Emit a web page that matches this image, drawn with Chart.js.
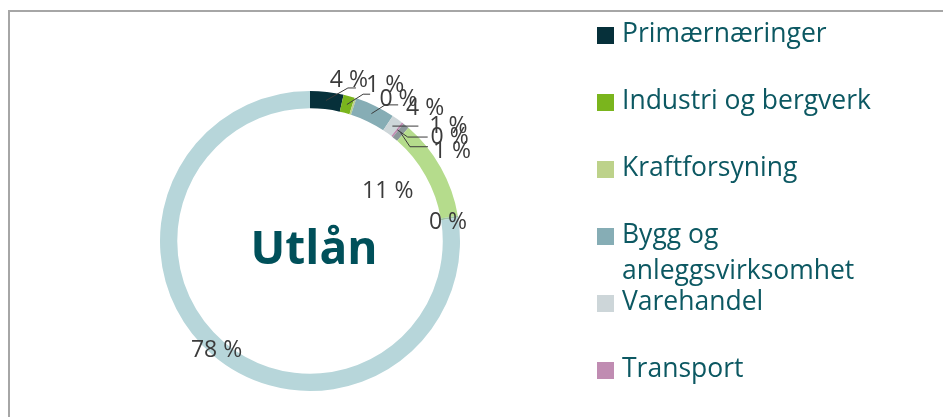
<!DOCTYPE html>
<html>
<head>
<meta charset="utf-8">
<script src="https://cdn.jsdelivr.net/npm/chart.js@4"></script>
<style>
  html, body { margin: 0; padding: 0; background: #fff; }
  body { width: 943px; height: 417px; position: relative; overflow: hidden; font-family: "Open Sans", sans-serif; }
  #frame { position: absolute; left: 8px; top: 10px; width: 1000px; height: 500px; border-top: 2px solid #a6a6a6; border-left: 2px solid #a6a6a6; }
  #chart { position: absolute; left: 0; top: 0; }
  #legend { position: absolute; left: 597px; top: 0; width: 346px; height: 417px; }
  .item { position: absolute; left: 0; display: flex; }
  .box { width: 17px; height: 17px; margin-top: 13px; margin-right: 8px; flex: none; }
  .txt { width: 300px; font-size: 26.5px; line-height: 36px; color: #0c5862; }
</style>
</head>
<body>
<div id="frame"></div>
<canvas id="chart" width="943" height="417"></canvas>
<div id="legend"></div>
<script>
const categories = ["Primærnæringer", "Industri og bergverk", "Kraftforsyning", "Bygg og anleggsvirksomhet",
  "Varehandel", "Transport", "Tjenesteyting", "Eiendomsdrift", "Offentlig forvaltning", "Personmarked"];
const values = [3.6, 1.2, 0.2, 4.3, 1.2, 0.2, 0.7, 10.9, 0.2, 77.5];
const colors = ["#06303a", "#7ab51d", "#bdd28a", "#86adb5", "#cdd6d9", "#c08cb2", "#8c989b", "#b5dc8c", "#9bc4a3", "#b7d6da"];

// label placement relative to the slice's outer midpoint, leader bends relative to the label
const labelOffsets = [[22, -13], [36, -12], [43, 0], [50, 1], [51, 6], [47, 13], [46, 24], [-53, 22], [-10, 4], [4, -6]];
const leaderBends = [
  [[-1, 9], [7, 9]],
  [[-22, 10], [-15, 10]],
  null,
  [[-40, -2], [-27, -2]],
  [[-30, 1]],
  [[-42, 1], [-22, 1]],
  [[-42, -3], [-24, -3]],
  null, null, null
];

// legend built from the same arrays
const legend = document.getElementById("legend");
categories.forEach((name, i) => {
  const item = document.createElement("div");
  item.className = "item";
  item.style.top = (13.5 + i * 67) + "px";
  item.innerHTML = `<div class="box" style="background:${colors[i]}"></div><div class="txt">${name}</div>`;
  legend.appendChild(item);
});

const sliceLabels = {
  id: "sliceLabels",
  afterDatasetsDraw(chart) {
    const ctx = chart.ctx;
    const arcs = chart.getDatasetMeta(0).data;
    ctx.save();
    ctx.strokeStyle = "#3b3b3b";
    ctx.lineWidth = 1;
    ctx.fillStyle = "#3b3b3b";
    ctx.font = '23px "Open Sans"';
    ctx.textAlign = "center";
    ctx.textBaseline = "alphabetic";
    arcs.forEach((arc, i) => {
      const p = arc.getProps(["x", "y", "startAngle", "endAngle", "outerRadius", "innerRadius"], true);
      const mid = (p.startAngle + p.endAngle) / 2;
      const ox = p.x + Math.cos(mid) * p.outerRadius;
      const oy = p.y + Math.sin(mid) * p.outerRadius;
      const lx = ox + labelOffsets[i][0];
      const ly = oy + labelOffsets[i][1];
      const bends = leaderBends[i];
      if (bends) {
        const r = (p.outerRadius + p.innerRadius) / 2;
        ctx.beginPath();
        ctx.moveTo(p.x + Math.cos(mid) * r, p.y + Math.sin(mid) * r);
        bends.forEach(b => ctx.lineTo(lx + b[0], ly + b[1]));
        ctx.stroke();
      }
    });
    arcs.forEach((arc, i) => {
      const p = arc.getProps(["x", "y", "startAngle", "endAngle", "outerRadius"], true);
      const mid = (p.startAngle + p.endAngle) / 2;
      const lx = p.x + Math.cos(mid) * p.outerRadius + labelOffsets[i][0];
      const ly = p.y + Math.sin(mid) * p.outerRadius + labelOffsets[i][1];
      ctx.fillText(Math.round(values[i]) + " %", lx, ly + 8);
    });
    // centre title
    const c = arcs[0];
    ctx.fillStyle = "#00505a";
    ctx.font = 'bold 46px "Open Sans"';
    ctx.fillText("Utlån", c.x + 4, c.y + 23);
    ctx.restore();
  }
};

new Chart(document.getElementById("chart"), {
  type: "doughnut",
  data: {
    labels: categories,
    datasets: [{
      data: values,
      backgroundColor: colors,
      borderWidth: 0,
      hoverOffset: 0
    }]
  },
  options: {
    responsive: false,
    animation: false,
    cutout: "88.5%",
    layout: { padding: { left: 160, top: 91, right: 483, bottom: 26 } },
    plugins: {
      legend: { display: false },
      tooltip: { enabled: false }
    }
  },
  plugins: [sliceLabels]
});
</script>
</body>
</html>
